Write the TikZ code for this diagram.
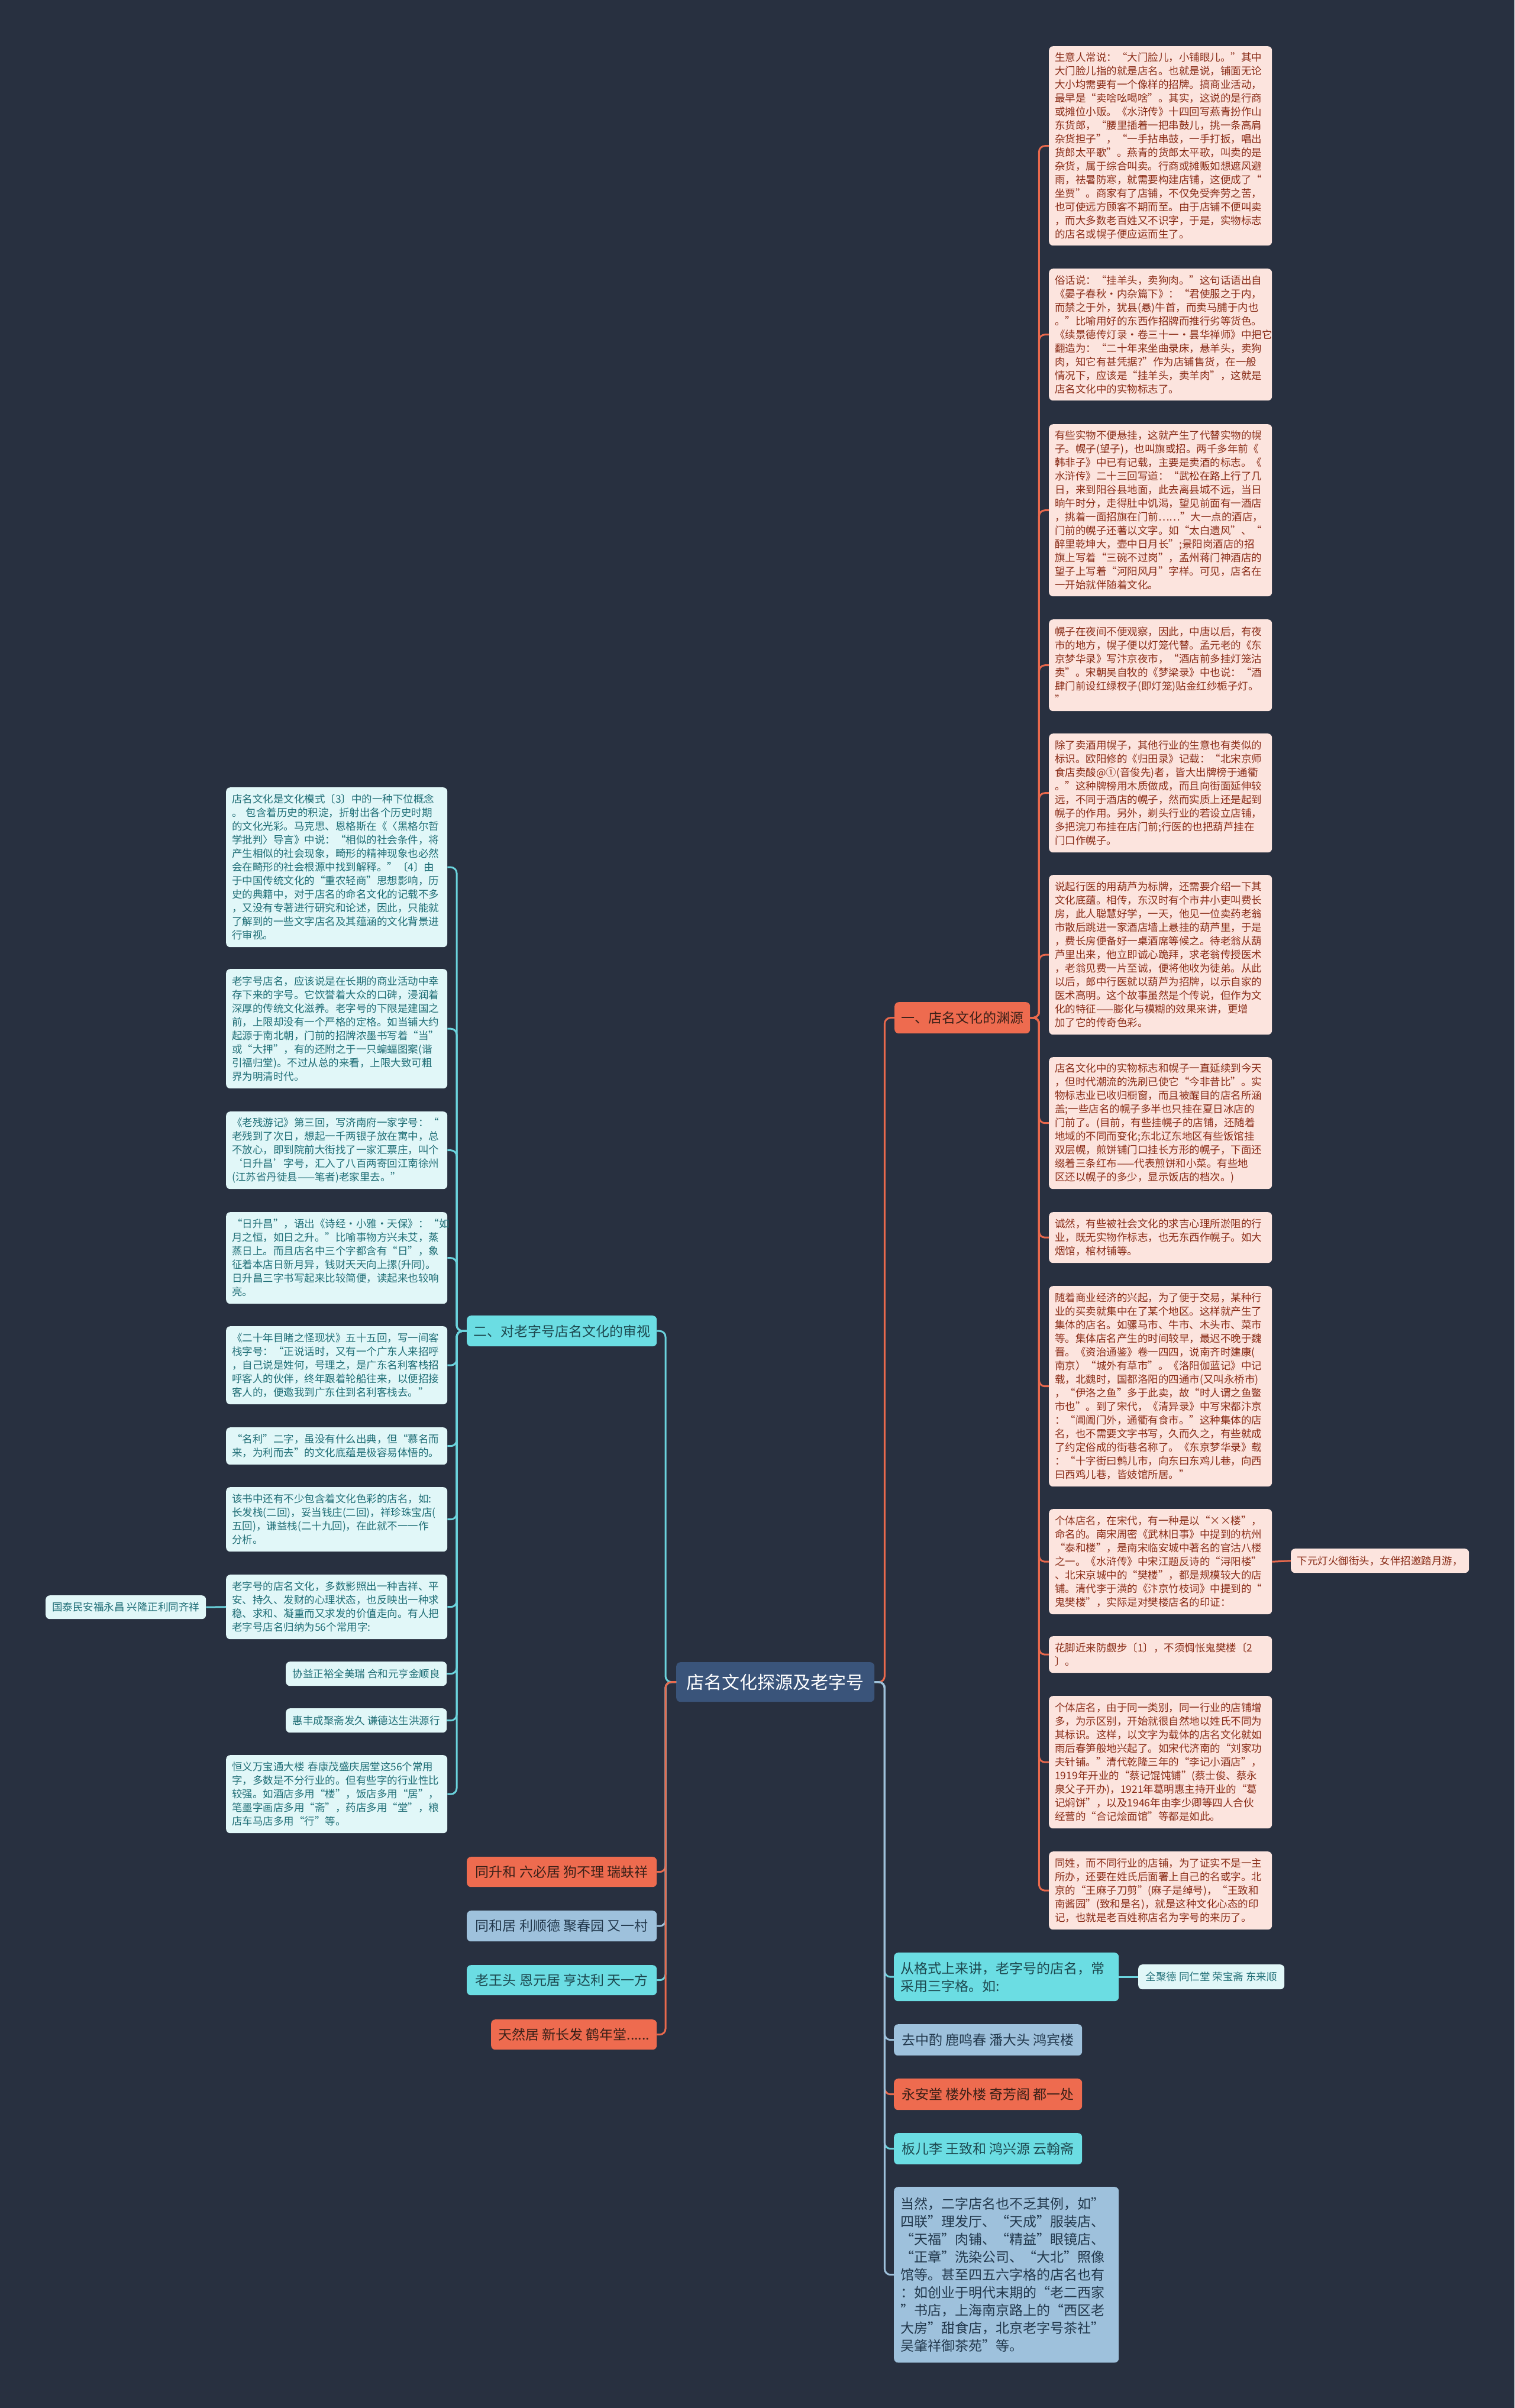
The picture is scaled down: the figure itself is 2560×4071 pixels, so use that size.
\documentclass[tikz,border=0pt]{standalone}
\usepackage{fontspec}
\setmainfont{Noto Sans CJK SC}
\parindent=0pt
\definecolor{bg}{HTML}{283040}
\definecolor{pinkfill}{HTML}{FCE4DE}
\definecolor{redtext}{HTML}{8A2D18}
\definecolor{lcyan}{HTML}{E1F7F8}
\definecolor{tealtext}{HTML}{1F6E76}
\definecolor{coral}{HTML}{EE6B4F}
\definecolor{cyanfill}{HTML}{6BDDE3}
\definecolor{greyblue}{HTML}{9EC1DC}
\definecolor{navy}{HTML}{3A547A}
\definecolor{darktext}{HTML}{3A2018}
\definecolor{darkcyan}{HTML}{1D4950}
\definecolor{darkblue}{HTML}{22384C}
\definecolor{cline}{HTML}{6BD3DD}
\definecolor{oline}{HTML}{E9694D}
\definecolor{bline}{HTML}{9EC1DC}
\tikzset{
  bx/.style={anchor=north west, rounded corners=7pt, inner ysep=0pt, align=left},
  smallf/.style={font=\fontsize{17.5}{23}\selectfont},
  bigf/.style={font=\fontsize{23}{30}\selectfont},
  rbox/.style={bx, smallf, fill=pinkfill, text=redtext, inner xsep=10pt},
  lbox/.style={bx, smallf, fill=lcyan, text=tealtext, inner xsep=10pt},
  coraln/.style={bx, bigf, fill=coral, text=darktext, inner xsep=11pt},
  cyann/.style={bx, bigf, fill=cyanfill, text=darkcyan, inner xsep=11pt},
  greyn/.style={bx, bigf, fill=greyblue, text=darkblue, inner xsep=11pt},
  rw/.style={text width=357pt},
  lw/.style={text width=354pt},
  conn/.style={line width=3pt, rounded corners=10pt},
}
\begin{document}
\begin{tikzpicture}[x=1pt,y=-1pt]
\fill[bg] (0,0) rectangle (2560,4071);
\useasboundingbox (0,0) rectangle (2560,4071);

% center
\node[anchor=north west, rounded corners=7pt, fill=navy, text=white, font=\fontsize{30}{36}\selectfont,
  minimum width=335pt, minimum height=67pt, inner sep=0pt] (center) at (1143,2810) {店名文化探源及老字号};

% level 1
\node[coraln, minimum width=228pt, minimum height=53pt] (one) at (1512,1694) {一、店名文化的渊源};
\node[cyann, minimum width=321pt, minimum height=52pt] (two) at (789,2224) {二、对老字号店名文化的审视};

% right boxes
\node[rbox, rw, minimum height=337pt] (r1) at (1773,78) {生意人常说：“大门脸儿，小铺眼儿。”其中\\大门脸儿指的就是店名。也就是说，铺面无论\\大小均需要有一个像样的招牌。搞商业活动，\\最早是“卖啥吆喝啥”。其实，这说的是行商\\或摊位小贩。《水浒传》十四回写燕青扮作山\\东货郎，“腰里插着一把串鼓儿，挑一条高肩\\杂货担子”，“一手拈串鼓，一手打扳，唱出\\货郎太平歌”。燕青的货郎太平歌，叫卖的是\\杂货，属于综合叫卖。行商或摊贩如想遮风避\\雨，祛暑防寒，就需要构建店铺，这便成了“\\坐贾”。商家有了店铺，不仅免受奔劳之苦，\\也可使远方顾客不期而至。由于店铺不便叫卖\\，而大多数老百姓又不识字，于是，实物标志\\的店名或幌子便应运而生了。};
\node[rbox, rw, minimum height=223pt] (r2) at (1773,454) {俗话说：“挂羊头，卖狗肉。”这句话语出自\\《晏子春秋·内杂篇下》：“君使服之于内，\\而禁之于外，犹县(悬)牛首，而卖马脯于内也\\。”比喻用好的东西作招牌而推行劣等货色。\\《续景德传灯录·卷三十一·昙华禅师》中把它\\翻造为：“二十年来坐曲录床，悬羊头，卖狗\\肉，知它有甚凭据?”作为店铺售货，在一般\\情况下，应该是“挂羊头，卖羊肉”，这就是\\店名文化中的实物标志了。};
\node[rbox, rw, minimum height=291pt] (r3) at (1773,717) {有些实物不便悬挂，这就产生了代替实物的幌\\子。幌子(望子)，也叫旗或招。两千多年前《\\韩非子》中已有记载，主要是卖酒的标志。《\\水浒传》二十三回写道：“武松在路上行了几\\日，来到阳谷县地面，此去离县城不远，当日\\晌午时分，走得肚中饥渴，望见前面有一酒店\\，挑着一面招旗在门前……”大一点的酒店，\\门前的幌子还著以文字。如“太白遗风”、“\\醉里乾坤大，壶中日月长”;景阳岗酒店的招\\旗上写着“三碗不过岗”，孟州蒋门神酒店的\\望子上写着“河阳风月”字样。可见，店名在\\一开始就伴随着文化。};
\node[rbox, rw, minimum height=155pt] (r4) at (1773,1047) {幌子在夜间不便观察，因此，中唐以后，有夜\\市的地方，幌子便以灯笼代替。孟元老的《东\\京梦华录》写汴京夜市，“酒店前多挂灯笼沽\\卖”。宋朝吴自牧的《梦梁录》中也说：“酒\\肆门前设红绿杈子(即灯笼)贴金红纱栀子灯。\\”};
\node[rbox, rw, minimum height=201pt] (r5) at (1773,1240) {除了卖酒用幌子，其他行业的生意也有类似的\\标识。欧阳修的《归田录》记载：“北宋京师\\食店卖酸@①(音俊先)者，皆大出牌榜于通衢\\。”这种牌榜用木质做成，而且向街面延伸较\\远，不同于酒店的幌子，然而实质上还是起到\\幌子的作用。另外，剃头行业的若设立店铺，\\多把浣刀布挂在店门前;行医的也把葫芦挂在\\门口作幌子。};
\node[rbox, rw, minimum height=270pt] (r6) at (1773,1479) {说起行医的用葫芦为标牌，还需要介绍一下其\\文化底蕴。相传，东汉时有个市井小吏叫费长\\房，此人聪慧好学，一天，他见一位卖药老翁\\市散后跳进一家酒店墙上悬挂的葫芦里，于是\\，费长房便备好一桌酒席等候之。待老翁从葫\\芦里出来，他立即诚心跪拜，求老翁传授医术\\，老翁见费一片至诚，便将他收为徒弟。从此\\以后，郎中行医就以葫芦为招牌，以示自家的\\医术高明。这个故事虽然是个传说，但作为文\\化的特征——膨化与模糊的效果来讲，更增\\加了它的传奇色彩。};
\node[rbox, rw, minimum height=223pt] (r7) at (1773,1787) {店名文化中的实物标志和幌子一直延续到今天\\，但时代潮流的洗刷已使它“今非昔比”。实\\物标志业已收归橱窗，而且被醒目的店名所涵\\盖;一些店名的幌子多半也只挂在夏日冰店的\\门前了。(目前，有些挂幌子的店铺，还随着\\地域的不同而变化;东北辽东地区有些饭馆挂\\双层幌，煎饼铺门口挂长方形的幌子，下面还\\缀着三条红布——代表煎饼和小菜。有些地\\区还以幌子的多少，显示饭店的档次。)};
\node[rbox, rw, minimum height=86pt] (r8) at (1773,2049) {诚然，有些被社会文化的求吉心理所淤阻的行\\业，既无实物作标志，也无东西作幌子。如大\\烟馆，棺材铺等。};
\node[rbox, rw, minimum height=339pt] (r9) at (1773,2174) {随着商业经济的兴起，为了便于交易，某种行\\业的买卖就集中在了某个地区。这样就产生了\\集体的店名。如骡马市、牛市、木头市、菜市\\等。集体店名产生的时间较早，最迟不晚于魏\\晋。《资治通鉴》卷一四四，说南齐时建康(\\南京）“城外有草市”。《洛阳伽蓝记》中记\\载，北魏时，国都洛阳的四通市(又叫永桥市)\\，“伊洛之鱼”多于此卖，故“时人谓之鱼鳖\\市也”。到了宋代，《清异录》中写宋都汴京\\：“阊阖门外，通衢有食市。”这种集体的店\\名，也不需要文字书写，久而久之，有些就成\\了约定俗成的街巷名称了。《东京梦华录》载\\：“十字街曰鹩儿市，向东曰东鸡儿巷，向西\\曰西鸡儿巷，皆妓馆所居。”};
\node[rbox, rw, minimum height=178pt] (r10) at (1773,2551) {个体店名，在宋代，有一种是以“××楼”，\\命名的。南宋周密《武林旧事》中提到的杭州\\“泰和楼”，是南宋临安城中著名的官沽八楼\\之一。《水浒传》中宋江题反诗的“浔阳楼”\\、北宋京城中的“樊楼”，都是规模较大的店\\铺。清代李于潢的《汴京竹枝词》中提到的“\\鬼樊楼”，实际是对樊楼店名的印证：};
\node[rbox, minimum width=301pt, minimum height=41pt] (xy) at (2182,2618) {下元灯火御街头，女伴招邀踏月游，};
\node[rbox, rw, minimum height=62pt] (r11) at (1773,2766) {花脚近来防觑步〔1〕，不须惆怅鬼樊楼〔2\\〕。};
\node[rbox, rw, minimum height=224pt] (r12) at (1773,2867) {个体店名，由于同一类别，同一行业的店铺增\\多，为示区别，开始就很自然地以姓氏不同为\\其标识。这样，以文字为载体的店名文化就如\\雨后春笋般地兴起了。如宋代济南的“刘家功\\夫针铺。”清代乾隆三年的“李记小酒店”，\\1919年开业的“蔡记馄饨铺”(蔡士俊、蔡永\\泉父子开办)，1921年葛明惠主持开业的“葛\\记焖饼”，以及1946年由李少卿等四人合伙\\经营的“合记烩面馆”等都是如此。};
\node[rbox, rw, minimum height=132pt] (r13) at (1773,3130) {同姓，而不同行业的店铺，为了证实不是一主\\所办，还要在姓氏后面署上自己的名或字。北\\京的“王麻子刀剪”(麻子是绰号)，“王致和\\南酱园”(致和是名)，就是这种文化心态的印\\记，也就是老百姓称店名为字号的来历了。};

% left boxes
\node[lbox, lw, minimum height=270pt] (l1) at (382,1331) {店名文化是文化模式〔3〕中的一种下位概念\\。 包含着历史的积淀，折射出各个历史时期\\的文化光彩。马克思、恩格斯在《〈黑格尔哲\\学批判〉导言》中说：“相似的社会条件，将\\产生相似的社会现象，畸形的精神现象也必然\\会在畸形的社会根源中找到解释。”〔4〕由\\于中国传统文化的“重农轻商”思想影响，历\\史的典籍中，对于店名的命名文化的记载不多\\，又没有专著进行研究和论述，因此，只能就\\了解到的一些文字店名及其蕴涵的文化背景进\\行审视。};
\node[lbox, lw, minimum height=202pt] (l2) at (382,1638) {老字号店名，应该说是在长期的商业活动中幸\\存下来的字号。它饮誉着大众的口碑，浸润着\\深厚的传统文化滋养。老字号的下限是建国之\\前，上限却没有一个严格的定格。如当铺大约\\起源于南北朝，门前的招牌浓墨书写着“当”\\或“大押”，有的还附之于一只蝙蝠图案(谐\\引福归堂)。不过从总的来看，上限大致可粗\\界为明清时代。};
\node[lbox, lw, minimum height=131pt] (l3) at (382,1879) {《老残游记》第三回，写济南府一家字号：“\\老残到了次日，想起一千两银子放在寓中，总\\不放心，即到院前大街找了一家汇票庄，叫个\\‘日升昌’字号，汇入了八百两寄回江南徐州\\(江苏省丹徒县——笔者)老家里去。”};
\node[lbox, lw, minimum height=155pt] (l4) at (382,2049) {“日升昌”，语出《诗经·小雅·天保》：“如\\月之恒，如日之升。”比喻事物方兴未艾，蒸\\蒸日上。而且店名中三个字都含有“日”，象\\征着本店日新月异，钱财天天向上摞(升同)。\\日升昌三字书写起来比较简便，读起来也较响\\亮。};
\node[lbox, lw, minimum height=132pt] (l5) at (382,2242) {《二十年目睹之怪现状》五十五回，写一间客\\栈字号：“正说话时，又有一个广东人来招呼\\，自己说是姓何，号理之，是广东名利客栈招\\呼客人的伙伴，终年跟着轮船往来，以便招接\\客人的，便邀我到广东住到名利客栈去。”};
\node[lbox, lw, minimum height=63pt] (l6) at (382,2413) {“名利”二字，虽没有什么出典，但“慕名而\\来，为利而去”的文化底蕴是极容易体悟的。};
\node[lbox, lw, minimum height=109pt] (l7) at (382,2514) {该书中还有不少包含着文化色彩的店名，如:\\长发栈(二回)，妥当钱庄(二回)，祥珍珠宝店(\\五回)，谦益栈(二十九回)，在此就不一一作\\分析。};
\node[lbox, lw, minimum height=109pt] (l8) at (382,2662) {老字号的店名文化，多数影照出一种吉祥、平\\安、持久、发财的心理状态，也反映出一种求\\稳、求和、凝重而又求发的价值走向。有人把\\老字号店名归纳为56个常用字:};
\node[lbox, minimum width=272pt, minimum height=41pt] (l9) at (483,2809) {协益正裕全美瑞 合和元亨金顺良};
\node[lbox, minimum width=272pt, minimum height=41pt] (l10) at (483,2888) {惠丰成聚斋发久 谦德达生洪源行};
\node[lbox, lw, minimum height=132pt] (l11) at (382,2967) {恒义万宝通大楼 春康茂盛庆居堂这56个常用\\字，多数是不分行业的。但有些字的行业性比\\较强。如酒店多用“楼”，饭店多用“居”，\\笔墨字画店多用“斋”，药店多用“堂”，粮\\店车马店多用“行”等。};
\node[lbox, minimum width=271pt, minimum height=40pt] (gt) at (77,2697) {国泰民安福永昌 兴隆正利同齐祥};

% bottom left
\node[coraln, minimum width=321pt, minimum height=51pt] (tsh) at (789,3139) {同升和 六必居 狗不理 瑞蚨祥};
\node[greyn, minimum width=321pt, minimum height=52pt] (thj) at (789,3230) {同和居 利顺德 聚春园 又一村};
\node[cyann, minimum width=321pt, minimum height=51pt] (lwt) at (789,3322) {老王头 恩元居 亨达利 天一方};
\node[coraln, minimum width=280pt, minimum height=51pt] (trj) at (830,3414) {天然居 新长发 鹤年堂......};

% bottom right
\node[cyann, text width=358pt, minimum height=82pt] (cg) at (1511,3301) {从格式上来讲，老字号的店名，常\\采用三字格。如:};
\node[lbox, minimum width=247pt, minimum height=42pt] (qjd) at (1924,3321) {全聚德 同仁堂 荣宝斋 东来顺};
\node[greyn, minimum width=318pt, minimum height=53pt] (qzz) at (1511,3422) {去中酌 鹿鸣春 潘大头 鸿宾楼};
\node[coraln, minimum width=318pt, minimum height=53pt] (yat) at (1511,3514) {永安堂 楼外楼 奇芳阁 都一处};
\node[cyann, minimum width=318pt, minimum height=53pt] (brl) at (1511,3606) {板儿李 王致和 鸿兴源 云翰斋};
\node[greyn, text width=358pt, minimum height=297pt] (dr) at (1511,3697) {当然，二字店名也不乏其例，如”\\四联”理发厅、“天成”服装店、\\“天福”肉铺、“精益”眼镜店、\\“正章”洗染公司、“大北”照像\\馆等。甚至四五六字格的店名也有\\：如创业于明代末期的“老二西家\\”书店，上海南京路上的“西区老\\大房”甜食店，北京老字号茶社”\\吴肇祥御茶苑”等。};

% connectors: center -> left
\draw[conn, cline] (center.west) -- ++(-18,0) |- (two.east);
\draw[conn, oline] (center.west) -- ++(-18,0) |- (tsh.east);
\draw[conn, bline] (center.west) -- ++(-18,0) |- (thj.east);
\draw[conn, cline] (center.west) -- ++(-18,0) |- (lwt.east);
\draw[conn, oline] (center.west) -- ++(-18,0) |- (trj.east);
% center -> right
\draw[conn, oline] (center.east) -- ++(17,0) |- (one.west);
\draw[conn, cline] (center.east) -- ++(17,0) |- (cg.west);
\draw[conn, bline] (center.east) -- ++(17,0) |- (qzz.west);
\draw[conn, oline] (center.east) -- ++(17,0) |- (yat.west);
\draw[conn, cline] (center.east) -- ++(17,0) |- (brl.west);
\draw[conn, bline] (center.east) -- ++(17,0) |- (dr.west);
% one -> right boxes
\foreach \k in {r1,r2,r3,r4,r5,r6,r7,r8,r9,r10,r11,r12,r13}
  \draw[conn, oline] (one.east) -- ++(15,0) |- (\k.west);
\draw[conn, oline] (r10.east) -- (xy.west);
% two -> left boxes
\foreach \k in {l1,l2,l3,l4,l5,l6,l7,l8,l9,l10,l11}
  \draw[conn, cline] (two.west) -- ++(-17,0) |- (\k.east);
\draw[conn, cline] (l8.west) -- (gt.east);
\draw[conn, cline] (cg.east) -- (qjd.west);
\end{tikzpicture}
\end{document}
